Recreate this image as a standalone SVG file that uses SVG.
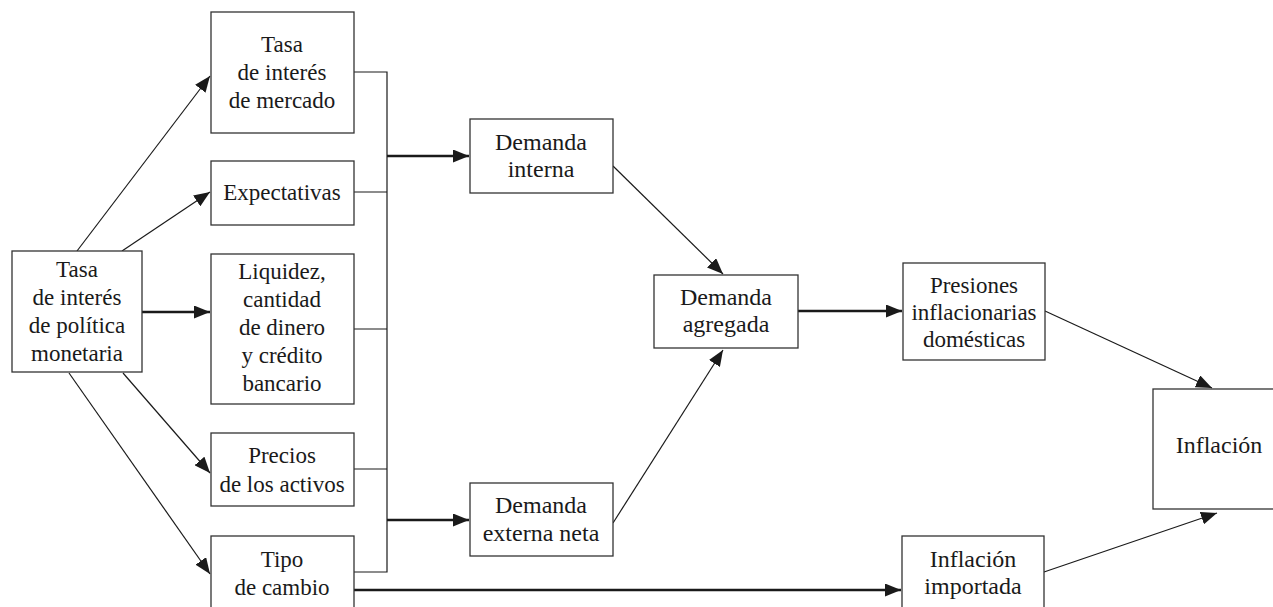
<svg xmlns="http://www.w3.org/2000/svg" width="1273" height="607" viewBox="0 0 1273 607">
<style>
.box{fill:#fff;stroke:#333;stroke-width:1.3}
.t{font-family:"Liberation Serif","Times New Roman",serif;font-size:23px;fill:#1a1a1a;text-anchor:middle}
.m{font-size:24px}
.thin{fill:none;stroke:#1a1a1a;stroke-width:1.2}
.thick{fill:none;stroke:#1a1a1a;stroke-width:2.6}
</style>
<defs>
<marker id="ah" markerUnits="userSpaceOnUse" markerWidth="17" markerHeight="13" refX="16" refY="6.5" orient="auto">
<path d="M0,0 L16,6.5 L0,13 z" fill="#1a1a1a"/>
</marker>
</defs>
<rect width="1273" height="607" fill="#fff"/>
<g id="connectors">
<path class="thin" d="M354,72 H387 V572 H354 M354,192 H387 M354,329 H387 M354,469 H387"/>
<line class="thin" x1="77" y1="251" x2="210" y2="76" marker-end="url(#ah)"/>
<line class="thin" x1="122" y1="251" x2="210" y2="192" marker-end="url(#ah)"/>
<line class="thick" x1="142" y1="312" x2="210" y2="312" marker-end="url(#ah)"/>
<line class="thin" x1="123" y1="373" x2="210" y2="473" marker-end="url(#ah)"/>
<line class="thin" x1="69" y1="373" x2="210" y2="574" marker-end="url(#ah)"/>
<line class="thick" x1="387" y1="156" x2="469" y2="156" marker-end="url(#ah)"/>
<line class="thick" x1="387" y1="520" x2="469" y2="520" marker-end="url(#ah)"/>
<line class="thick" x1="354" y1="590" x2="901" y2="590" marker-end="url(#ah)"/>
<line class="thin" x1="613" y1="166" x2="723" y2="274" marker-end="url(#ah)"/>
<line class="thin" x1="613" y1="523" x2="723" y2="350" marker-end="url(#ah)"/>
<line class="thick" x1="798" y1="311" x2="902" y2="311" marker-end="url(#ah)"/>
<line class="thin" x1="1045" y1="311" x2="1212" y2="388" marker-end="url(#ah)"/>
<line class="thin" x1="1044" y1="572" x2="1217" y2="513" marker-end="url(#ah)"/>
</g>
<g id="n-politica">
<rect class="box" x="12" y="251" width="130" height="121"/>
<text class="t" x="77" y="277">Tasa</text>
<text class="t" x="77" y="305">de interés</text>
<text class="t" x="77" y="333">de política</text>
<text class="t" x="77" y="361">monetaria</text>
</g>
<g id="n-mercado">
<rect class="box" x="211" y="12" width="143" height="121"/>
<text class="t" x="282" y="52">Tasa</text>
<text class="t" x="282" y="80">de interés</text>
<text class="t" x="282" y="108">de mercado</text>
</g>
<g id="n-expectativas">
<rect class="box" x="211" y="161" width="143" height="64"/>
<text class="t" x="282" y="200">Expectativas</text>
</g>
<g id="n-liquidez">
<rect class="box" x="211" y="254" width="143" height="150"/>
<text class="t" x="282" y="279">Liquidez,</text>
<text class="t" x="282" y="307">cantidad</text>
<text class="t" x="282" y="335">de dinero</text>
<text class="t" x="282" y="363">y crédito</text>
<text class="t" x="282" y="391">bancario</text>
</g>
<g id="n-precios">
<rect class="box" x="211" y="433" width="143" height="73"/>
<text class="t" x="282" y="463">Precios</text>
<text class="t" x="282" y="492">de los activos</text>
</g>
<g id="n-tipo">
<rect class="box" x="211" y="536" width="143" height="80"/>
<text class="t" x="282" y="567">Tipo</text>
<text class="t" x="282" y="595">de cambio</text>
</g>
<g id="n-dinterna">
<rect class="box" x="470" y="119" width="143" height="74"/>
<text class="t m" x="541" y="150">Demanda</text>
<text class="t m" x="541" y="177">interna</text>
</g>
<g id="n-dexterna">
<rect class="box" x="470" y="483" width="143" height="73"/>
<text class="t m" x="541" y="513">Demanda</text>
<text class="t m" x="541" y="541">externa neta</text>
</g>
<g id="n-dagregada">
<rect class="box" x="654" y="275" width="144" height="73"/>
<text class="t m" x="726" y="305">Demanda</text>
<text class="t m" x="726" y="332">agregada</text>
</g>
<g id="n-presiones">
<rect class="box" x="903" y="263" width="142" height="97"/>
<text class="t" x="974" y="293">Presiones</text>
<text class="t" x="974" y="320">inflacionarias</text>
<text class="t" x="974" y="347">domésticas</text>
</g>
<g id="n-importada">
<rect class="box" x="902" y="536" width="142" height="80"/>
<text class="t m" x="973" y="567">Inflación</text>
<text class="t m" x="973" y="594">importada</text>
</g>
<g id="n-inflacion">
<rect class="box" x="1153" y="389" width="140" height="120"/>
<text class="t m" x="1219" y="453">Inflación</text>
</g>
</svg>
